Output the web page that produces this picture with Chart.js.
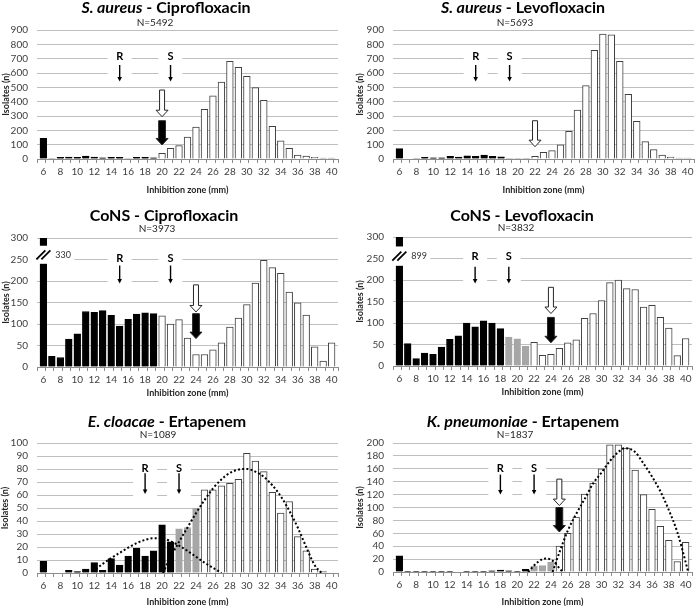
<!DOCTYPE html>
<html>
<head>
<meta charset="utf-8">
<script src="https://cdn.jsdelivr.net/npm/chart.js@4.4.1/dist/chart.umd.min.js"></script>
<style>
html, body { margin: 0; padding: 0; background: #fff; overflow: hidden; }
body { width: 696px; height: 606px; position: relative; }
canvas { position: absolute; }
</style>
</head>
<body>
<canvas id="p1" width="348" height="200" style="left:0;top:0"></canvas>
<canvas id="p2" width="348" height="200" style="left:348px;top:0"></canvas>
<canvas id="p3" width="348" height="200" style="left:0;top:200px"></canvas>
<canvas id="p4" width="348" height="200" style="left:348px;top:200px"></canvas>
<canvas id="p5" width="348" height="210" style="left:0;top:400px"></canvas>
<canvas id="p6" width="348" height="210" style="left:348px;top:400px"></canvas>
<script>
// inhibition zone categories (mm)
const zones = [6,7,8,9,10,11,12,13,14,15,16,17,18,19,20,21,22,23,24,25,26,27,28,29,30,31,32,33,34,35,36,37,38,39,40];

// isolates per zone
const saCipro = [145,3,12,14,12,21,14,9,12,12,5,12,12,9,40,74,93,153,223,346,440,537,681,640,577,498,409,228,126,74,28,20,12,6,6];
const saLevo = [72,0,3,12,8,8,18,14,22,18,28,18,16,5,2,3,18,46,58,98,193,342,512,758,872,867,681,451,263,121,65,28,14,7,7];
const conCipro = [330,25,22,65,77,129,127,131,120,95,111,123,126,124,119,100,110,67,29,29,40,56,93,114,145,195,248,231,218,174,149,121,47,14,56];
const conLevo = [899,52,17,30,27,44,62,70,100,91,105,100,87,67,63,46,55,25,27,41,54,61,111,122,152,194,200,180,178,137,141,113,88,24,64];
const ecErta = [9,0,0,2,1,3,8,2,11,6,13,19,13,17,37,24,34,35,50,64,64,67,69,72,92,86,78,62,46,55,28,17,3,1,0];
const kpErta = [25,1,1,1,1,1,1,0,1,1,1,2,3,2,1,4,9,10,15,40,60,85,121,138,160,197,197,192,158,120,97,71,49,16,46];

// bar shading per zone: K black, G grey, W open
const saCiproGroups = 'KWKKKKKKKKWKKKWWWWWWWWWWWWWWWWWWWWW';
const saLevoGroups  = 'KWWKKKKKKKKKKWWWWWWWWWWWWWWWWWWWWWW';
const conCiproGroups = 'KKKKKKKKKKKKKKWWWWWWWWWWWWWWWWWWWWW';
const conLevoGroups  = 'KKKKKKKKKKKKKGGGWWWWWWWWWWWWWWWWWWW';
const ecErtaGroups   = 'KKKKKKKKKKKKKKKKGGGWWWWWWWWWWWWWWWW';
const kpErtaGroups   = 'KKKKKKKKKKKKKKKKGGGWWWWWWWWWWWWWWWW';

// fitted curves (zone, isolates)
const ecFitLowX = [12.2,13,14,15,16,17,18,19,20,21,22,23,24,25,26,27];
const ecFitLowY = [3,7,11.5,15.5,19.5,23,25.5,26.8,26.5,24.5,21,17,12.5,8,4,0];
const ecFitHighX = [20.1,21,22,23,24,25,26,27,28,29,30,31,32,33,34,35,36,37,38,38.8];
const ecFitHighY = [0,12,24,35,46,56,65,72,77,79.5,80,78,74,67.5,59,48,35,20,6,0];
const kpFitLowX = [21.3,22,22.5,23,23.5,24,24.5,25,25.4];
const kpFitLowY = [0,10,16,20,21,19,14,6,0];
const kpFitHighX = [24.2,25,26,27,28,29,30,31,32,32.8,34,35,36,37,38,39,40,40.3];
const kpFitHighY = [0,30,64,90,113,137,154,172,186,192,186,168,148,125,96,62,15,0];

const FONT = 'Lato, "Open Sans", sans-serif';

const fills = { K: '#000000', G: '#a6a6a6', W: '#ffffff' };
const edges = { K: '#000000', G: '#a6a6a6', W: '#404040' };

// tick positions: every category centre and every boundary between categories
const zoneTicks = [];
for (let v = zones[0] - 0.5; v <= zones[zones.length - 1] + 0.5; v += 0.5) zoneTicks.push(v);

function arrowBlock(ctx, cx, yTop, yTip, filled) {
    const sw = filled ? 3.4 : 2.5, hw = 6, hl = 6.5;
    ctx.beginPath();
    ctx.moveTo(cx - sw, yTop);
    ctx.lineTo(cx + sw, yTop);
    ctx.lineTo(cx + sw, yTip - hl);
    ctx.lineTo(cx + hw, yTip - hl);
    ctx.lineTo(cx, yTip);
    ctx.lineTo(cx - hw, yTip - hl);
    ctx.lineTo(cx - sw, yTip - hl);
    ctx.closePath();
    ctx.fillStyle = filled ? '#000' : '#fff';
    ctx.fill();
    ctx.lineWidth = 1;
    ctx.strokeStyle = '#262626';
    ctx.stroke();
}

function decor(p) {
    return {
        id: 'decor',
        beforeDatasetsDraw(chart) {
            const ctx = chart.ctx, x = chart.scales.x, y = chart.scales.y;
            ctx.save();
            ctx.fillStyle = '#fff';
            p.marks.forEach(m => {
                const cx = x.getPixelForValue(m.x);
                const t = y.getPixelForValue(p.markBox[0]), b = y.getPixelForValue(p.markBox[1]);
                ctx.fillRect(cx - 12, t, 24, b - t);
            });
            ctx.restore();
        },
        afterDatasetsDraw(chart) {
            const ctx = chart.ctx, x = chart.scales.x, y = chart.scales.y;
            ctx.save();
            if (p.brk) {
                const cx = x.getPixelForValue(zones[0]);
                const t = y.getPixelForValue(p.brk.gap[1]), b = y.getPixelForValue(p.brk.gap[0]);
                ctx.fillStyle = '#fff';
                ctx.fillRect(cx - 5, t, 36, b - t);
                const my = (t + b) / 2;
                ctx.strokeStyle = '#000';
                ctx.lineWidth = 1.8;
                [-2.5, 2.5].forEach(dx => {
                    ctx.beginPath();
                    ctx.moveTo(cx + dx - 4.5, my + 4.5);
                    ctx.lineTo(cx + dx + 4.5, my - 4.5);
                    ctx.stroke();
                });
                ctx.fillStyle = '#333';
                ctx.font = '9px ' + FONT;
                ctx.textAlign = 'left';
                ctx.textBaseline = 'middle';
                ctx.fillText(p.brk.label, cx + 12, my);
            }
            p.marks.forEach(m => {
                const cx = x.getPixelForValue(m.x);
                ctx.fillStyle = '#000';
                ctx.font = 'bold 11px ' + FONT;
                ctx.textAlign = 'center';
                ctx.textBaseline = 'middle';
                ctx.fillText(m.t, cx, y.getPixelForValue(p.markLabel));
                const a = y.getPixelForValue(p.markArrow[0]), b = y.getPixelForValue(p.markArrow[1]);
                ctx.strokeStyle = '#000';
                ctx.lineWidth = 1.4;
                ctx.beginPath();
                ctx.moveTo(cx, a);
                ctx.lineTo(cx, b - 3);
                ctx.stroke();
                ctx.beginPath();
                ctx.moveTo(cx - 2.3, b - 4.5);
                ctx.lineTo(cx + 2.3, b - 4.5);
                ctx.lineTo(cx, b);
                ctx.closePath();
                ctx.fill();
            });
            p.arrows.forEach(a => {
                arrowBlock(ctx, x.getPixelForValue(a.x), y.getPixelForValue(a.from), y.getPixelForValue(a.to), a.filled);
            });
            ctx.restore();
        },
        afterDraw(chart) {
            const ctx = chart.ctx;
            ctx.save();
            ctx.fillStyle = '#000';
            ctx.textBaseline = 'alphabetic';
            ctx.textAlign = 'left';
            const fi = 'italic bold 16px ' + FONT, fb = 'bold 16px ' + FONT;
            ctx.font = fi;
            const w1 = p.title[0] ? ctx.measureText(p.title[0]).width : 0;
            ctx.font = fb;
            const w2 = ctx.measureText(p.title[1]).width;
            const x0 = p.titleX - (w1 + w2) / 2;
            if (p.title[0]) {
                ctx.font = fi;
                ctx.fillText(p.title[0], x0, p.titleY);
            }
            ctx.font = fb;
            ctx.fillText(p.title[1], x0 + w1, p.titleY);
            ctx.font = '10px ' + FONT;
            ctx.fillStyle = '#262626';
            ctx.textAlign = 'center';
            ctx.fillText(p.n, p.nX, p.nY);
            ctx.restore();
        }
    };
}

function panel(id, p) {
    const canvas = document.getElementById(id);
    const W = canvas.width, H = canvas.height;
    const groups = p.groups.split('');
    const slot = (p.area[2] - p.area[0]) / zones.length;
    const datasets = p.fits.map(f => ({
        type: 'line',
        data: f[0].map((v, i) => ({ x: v, y: f[1][i] })),
        borderColor: '#000',
        borderWidth: 2,
        borderDash: [2, 2.2],
        pointRadius: 0,
        cubicInterpolationMode: 'monotone',
        fill: false,
        order: 0
    }));
    datasets.push({
        data: p.values,
        backgroundColor: groups.map(g => fills[g]),
        borderColor: groups.map(g => edges[g]),
        borderWidth: 1,
        barThickness: slot * 0.78,
        order: 1
    });
    new Chart(canvas.getContext('2d'), {
        type: 'bar',
        data: { labels: zones, datasets: datasets },
        options: {
            responsive: false,
            animation: false,
            devicePixelRatio: 1,
            layout: { padding: { left: 0, top: p.area[1], right: W - p.area[2], bottom: 0 } },
            plugins: { legend: { display: false }, tooltip: { enabled: false } },
            scales: {
                x: {
                    type: 'linear',
                    min: zones[0] - 0.5,
                    max: zones[zones.length - 1] + 0.5,
                    afterBuildTicks: s => { s.ticks = zoneTicks.map(v => ({ value: v })); },
                    grid: {
                        display: true, drawOnChartArea: false, drawTicks: true, tickLength: 4,
                        tickColor: c => (c.tick && Number.isInteger(c.tick.value) ? 'rgba(0,0,0,0)' : '#8c8c8c')
                    },
                    border: { display: true, color: '#8c8c8c' },
                    ticks: {
                        autoSkip: false, maxRotation: 0, padding: 3,
                        color: '#404040', font: { family: FONT, size: 10 },
                        callback: v => (Number.isInteger(v) && v % 2 === 0 ? String(v) : '')
                    },
                    title: {
                        display: true, text: 'Inhibition zone (mm)', color: '#262626',
                        font: { family: FONT, size: 9, weight: 'bold' },
                        padding: { top: 0, bottom: H - p.xTitleY - 5.4 }
                    },
                    afterFit: s => { s.height = H - p.area[3]; }
                },
                y: {
                    min: 0, max: p.yMax,
                    grid: { color: '#bfbfbf', drawTicks: false },
                    border: { display: false },
                    ticks: { stepSize: p.yStep, autoSkip: false, padding: 9, color: '#404040', font: { family: FONT, size: 10 } },
                    title: {
                        display: true, text: 'Isolates (n)', color: '#262626',
                        font: { family: FONT, size: 9, weight: 'bold' },
                        padding: { top: Math.max(0, p.yTitleX - 5.4), bottom: 0 }
                    },
                    afterFit: s => { s.width = p.area[0]; }
                }
            }
        },
        plugins: [decor(p)]
    });
}

panel('p1', {
    values: saCipro, groups: saCiproGroups, yMax: 900, yStep: 100,
    area: [37, 30, 338, 159], xTitleY: 190, yTitleX: 6,
    title: ['S. aureus', ' - Ciprofloxacin'], titleX: 166, titleY: 13, n: 'N=5492', nX: 155, nY: 25.5,
    marks: [{ x: 15, t: 'R' }, { x: 21, t: 'S' }], markLabel: 718, markArrow: [656, 540], markBox: [780, 530],
    arrows: [{ x: 20, from: 481, to: 295, filled: false }, { x: 20, from: 267, to: 98, filled: true }],
    fits: []
});
panel('p2', {
    values: saLevo, groups: saLevoGroups, yMax: 900, yStep: 100,
    area: [45, 30, 346, 159], xTitleY: 190, yTitleX: 11.7,
    title: ['S. aureus', ' - Levofloxacin'], titleX: 175, titleY: 13, n: 'N=5693', nX: 167, nY: 26,
    marks: [{ x: 15, t: 'R' }, { x: 19, t: 'S' }], markLabel: 718, markArrow: [656, 540], markBox: [780, 530],
    arrows: [{ x: 22, from: 267, to: 86, filled: false }],
    fits: []
});
panel('p3', {
    values: conCipro, groups: conCiproGroups, yMax: 300, yStep: 50,
    area: [37, 38, 338, 167], xTitleY: 193, yTitleX: 6,
    title: ['', 'CoNS - Ciprofloxacin'], titleX: 164, titleY: 20.7, n: 'N=3973', nX: 157, nY: 31.7,
    marks: [{ x: 15, t: 'R' }, { x: 21, t: 'S' }], markLabel: 252, markArrow: [236, 194], markBox: [275, 188],
    arrows: [{ x: 24, from: 191, to: 128, filled: false }, { x: 24, from: 124, to: 66, filled: true }],
    brk: { gap: [240, 282], label: '330' },
    fits: []
});
panel('p4', {
    values: conLevo, groups: conLevoGroups, yMax: 300, yStep: 50,
    area: [45, 37, 344, 166], xTitleY: 192.3, yTitleX: 11.7,
    title: ['', 'CoNS - Levofloxacin'], titleX: 174, titleY: 20.7, n: 'N=3832', nX: 168, nY: 30.7,
    marks: [{ x: 15, t: 'R' }, { x: 19, t: 'S' }], markLabel: 254, markArrow: [231, 192], markBox: [272, 188],
    arrows: [{ x: 24, from: 183, to: 122, filled: false }, { x: 24, from: 113, to: 54, filled: true }],
    brk: { gap: [233, 278], label: '899' },
    fits: []
});
panel('p5', {
    values: ecErta, groups: ecErtaGroups, yMax: 100, yStep: 10,
    area: [37, 43, 338, 173], xTitleY: 201.7, yTitleX: 4,
    title: ['E. cloacae', ' - Ertapenem'], titleX: 167, titleY: 26.7, n: 'N=1089', nX: 158, nY: 38.3,
    marks: [{ x: 18, t: 'R' }, { x: 22, t: 'S' }], markLabel: 80.5, markArrow: [76.8, 60.8], markBox: [87, 57],
    arrows: [],
    fits: [[ecFitLowX, ecFitLowY], [ecFitHighX, ecFitHighY]]
});
panel('p6', {
    values: kpErta, groups: kpErtaGroups, yMax: 200, yStep: 20,
    area: [45, 43, 344, 172], xTitleY: 201.7, yTitleX: 11.7,
    title: ['K. pneumoniae', ' - Ertapenem'], titleX: 175, titleY: 26.7, n: 'N=1837', nX: 167, nY: 38.3,
    marks: [{ x: 18, t: 'R' }, { x: 22, t: 'S' }], markLabel: 160, markArrow: [151, 120], markBox: [172, 114],
    arrows: [{ x: 25, from: 144, to: 103, filled: false }, { x: 25, from: 100, to: 62, filled: true }],
    fits: [[kpFitLowX, kpFitLowY], [kpFitHighX, kpFitHighY]]
});
</script>
</body>
</html>
